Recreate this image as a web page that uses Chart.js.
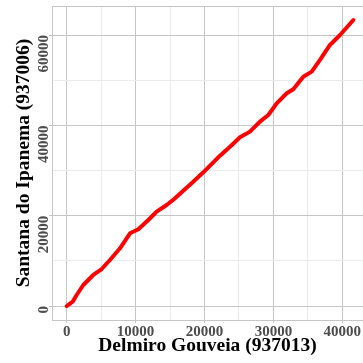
<!DOCTYPE html>
<html>
<head>
<meta charset="utf-8">
<script src="https://cdn.jsdelivr.net/npm/chart.js@4.4.1/dist/chart.umd.min.js"></script>
<style>
  html, body { margin: 0; padding: 0; background: #ffffff; }
  #wrap { width: 363px; height: 363px; }
</style>
</head>
<body>
<div id="wrap"><canvas id="c" width="363" height="363"></canvas></div>
<script>
// Double-mass curve: cumulative rainfall of two gauging stations
const cumDelmiro  = [0, 870, 1450, 2410, 3860, 5080, 6280, 7740, 9190, 10400, 11850, 13060, 14510, 15600, 16920, 18370, 19830, 21280, 22250, 23700, 25150, 26600, 28050, 29260, 30480, 31930, 32890, 34340, 35560, 36760, 38210, 39670, 41600];
const cumSantana  = [0, 950, 2440, 4650, 6870, 8190, 10190, 12780, 16100, 16990, 19050, 20890, 22370, 23700, 25540, 27530, 29610, 31820, 33290, 35280, 37360, 38620, 40820, 42300, 44890, 47110, 48000, 50790, 51900, 54490, 57810, 60020, 63340];

const xTickValues = [0, 5000, 10000, 15000, 20000, 25000, 30000, 35000, 40000];
const xTickLabels = ['0', '', '10000', '', '20000', '', '30000', '', '40000'];
const yTickValues = [0, 10000, 20000, 30000, 40000, 50000, 60000];
const yTickLabels = ['0', '', '20000', '', '40000', '', '60000'];

const xTitle = 'Delmiro Gouveia (937013)';
const yTitle = 'Santana do Ipanema (937006)';

const points = cumDelmiro.map((x, i) => ({ x: x, y: cumSantana[i] }));

const MAJOR = '#c6c6c6';
const MINOR = '#ebebeb';
const tickFont = { family: '"Liberation Serif", "Times New Roman", serif', size: 15, weight: 'bold' };
const titleFont = { family: '"Liberation Serif", "Times New Roman", serif', size: 19.5, weight: 'bold' };

function isMajor(ctx, labels, values) {
  if (!ctx.tick) return false;
  const i = values.indexOf(ctx.tick.value);
  return i >= 0 && labels[i] !== '';
}

// top edge of the panel frame
const panelTop = {
  id: 'panelTop',
  afterDraw(chart) {
    const { ctx, chartArea } = chart;
    ctx.save();
    ctx.strokeStyle = MAJOR;
    ctx.lineWidth = 1;
    ctx.beginPath();
    ctx.moveTo(chartArea.left, chartArea.top + 0.5);
    ctx.lineTo(chartArea.right, chartArea.top + 0.5);
    ctx.stroke();
    ctx.restore();
  }
};

new Chart(document.getElementById('c'), {
  type: 'scatter',
  data: {
    datasets: [{
      data: points,
      showLine: true,
      borderColor: '#ff0000',
      backgroundColor: '#ff0000',
      borderWidth: 4,
      borderCapStyle: 'round',
      borderJoinStyle: 'round',
      pointRadius: 0,
      tension: 0
    }]
  },
  options: {
    responsive: false,
    animation: false,
    devicePixelRatio: 1,
    layout: { padding: { top: 6, right: 0, left: 0, bottom: 0 } },
    plugins: { legend: { display: false }, tooltip: { enabled: false } },
    scales: {
      x: {
        type: 'linear',
        min: -2130,
        max: 43000,
        afterBuildTicks(scale) { scale.ticks = xTickValues.map(v => ({ value: v })); },
        afterFit(scale) { scale.height = 43; scale.paddingLeft = 0; scale.paddingRight = 0; },
        ticks: {
          autoSkip: false,
          maxRotation: 0,
          padding: 0,
          color: '#4d4d4d',
          font: tickFont,
          callback(value) { const i = xTickValues.indexOf(value); return i >= 0 ? xTickLabels[i] : ''; }
        },
        grid: {
          color: ctx => isMajor(ctx, xTickLabels, xTickValues) ? MAJOR : MINOR,
          tickColor: ctx => isMajor(ctx, xTickLabels, xTickValues) ? MAJOR : 'rgba(0,0,0,0)',
          tickLength: 3,
          lineWidth: 1
        },
        border: { display: true, color: MAJOR, width: 1 },
        title: { display: true, text: xTitle, color: '#000000', font: titleFont, padding: { top: 0, bottom: 5 } }
      },
      y: {
        type: 'linear',
        min: -3100,
        max: 66440,
        afterBuildTicks(scale) { scale.ticks = yTickValues.map(v => ({ value: v })); },
        afterFit(scale) { scale.width = 52; scale.paddingTop = 0; scale.paddingBottom = 0; },
        ticks: {
          autoSkip: false,
          minRotation: 90,
          maxRotation: 90,
          crossAlign: 'near',
          padding: 5,
          color: '#4d4d4d',
          font: tickFont,
          callback(value) { const i = yTickValues.indexOf(value); return i >= 0 ? yTickLabels[i] : ''; }
        },
        grid: {
          color: ctx => isMajor(ctx, yTickLabels, yTickValues) ? MAJOR : MINOR,
          tickColor: ctx => isMajor(ctx, yTickLabels, yTickValues) ? MAJOR : 'rgba(0,0,0,0)',
          tickLength: 3,
          lineWidth: 1
        },
        border: { display: true, color: MAJOR, width: 1 },
        title: { display: true, text: yTitle, color: '#000000', font: titleFont, padding: { top: 12, bottom: 0 } }
      }
    }
  },
  plugins: [panelTop]
});
</script>
</body>
</html>
